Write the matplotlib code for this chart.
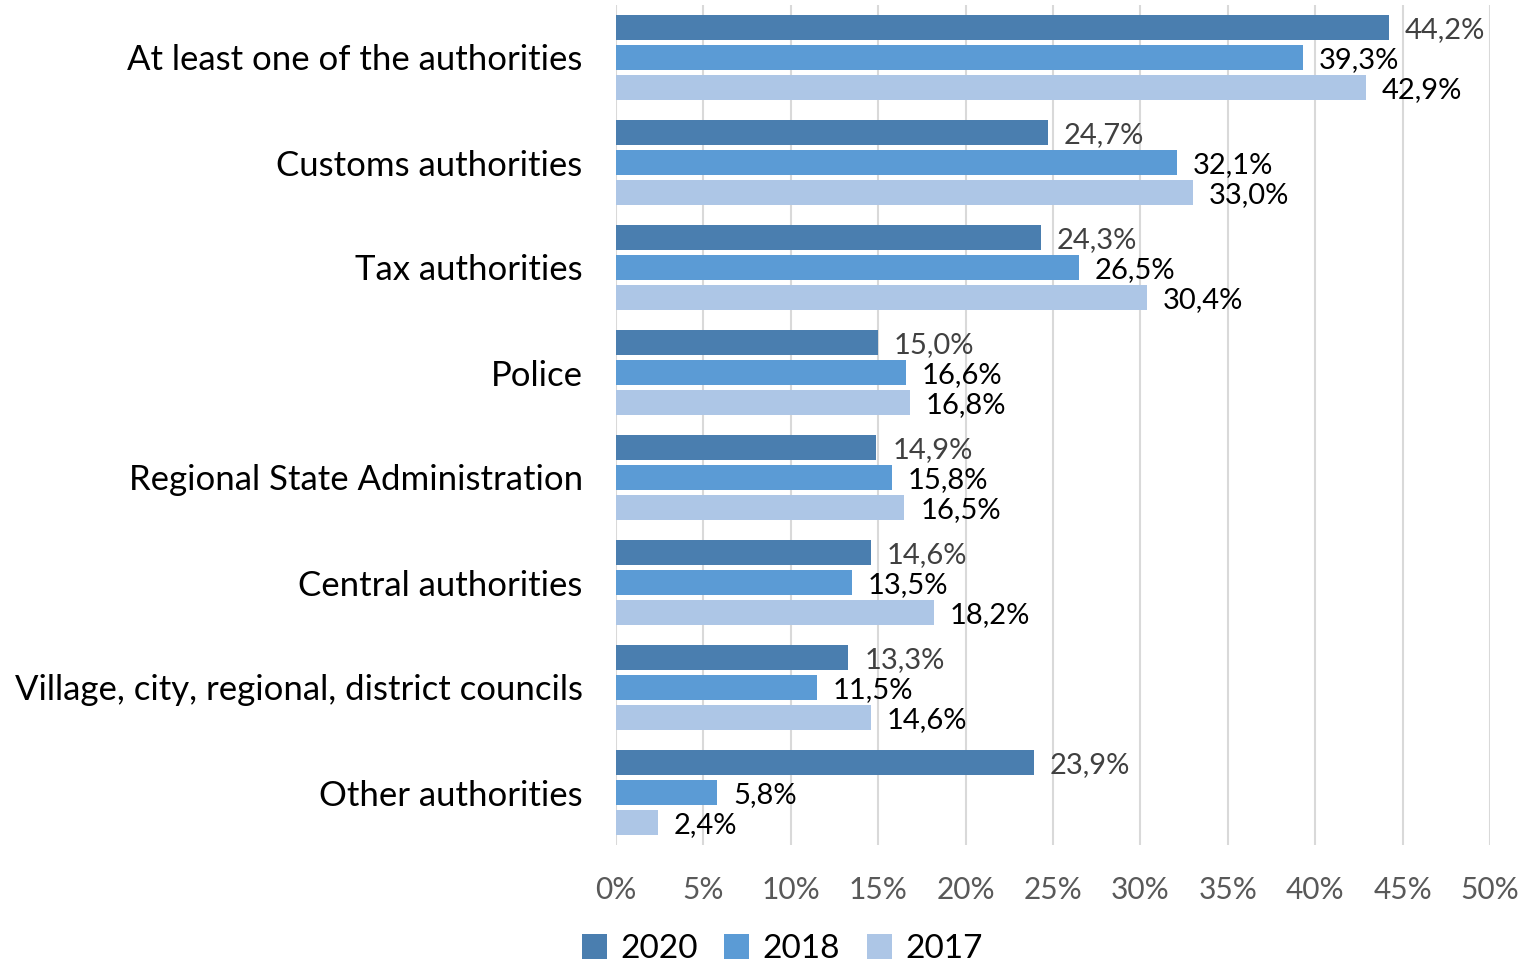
import matplotlib.pyplot as plt
import numpy as np

categories = ["At least one of the authorities", "Customs authorities", "Tax authorities",
              "Police", "Regional State Administration", "Central authorities",
              "Village, city, regional, district councils", "Other authorities"]
years = ["2020", "2018", "2017"]
v2020 = [44.2, 24.7, 24.3, 15.0, 14.9, 14.6, 13.3, 23.9]
v2018 = [39.3, 32.1, 26.5, 16.6, 15.8, 13.5, 11.5, 5.8]
v2017 = [42.9, 33.0, 30.4, 16.8, 16.5, 18.2, 14.6, 2.4]

colors = ["#4a7eaf", "#5b9bd5", "#adc6e6"]
label_colors = ["#404040", "#000000", "#000000"]

plt.rcParams['font.family'] = ['Lato', 'DejaVu Sans']

fig = plt.figure(figsize=(15.19, 9.65), dpi=100)
ax = fig.add_axes([616 / 1519, 1 - 845 / 965, 874 / 1519, 840 / 965])

y = np.arange(len(categories))
step = 0.2857
h = 0.23
for i, (vals, c, lc) in enumerate(zip([v2020, v2018, v2017], colors, label_colors)):
    pos = y + (i - 1) * step
    ax.barh(pos, vals, height=h, color=c, label=years[i], zorder=3)
    for p, v in zip(pos, vals):
        ax.text(v + 0.9, p + 0.02, f"{v:.1f}%".replace(".", ","), va="center", ha="left",
                fontsize=21, color=lc, zorder=4)

ax.set_xlim(0, 50)
ax.set_ylim(len(categories) - 0.5, -0.5)
ax.set_xticks(np.arange(0, 51, 5))
ax.set_xticklabels([f"{t}%" for t in range(0, 51, 5)])
ax.set_yticks(y)
ax.set_yticklabels(categories)
ax.tick_params(axis="x", length=0, labelsize=21.5, labelcolor="#595959", pad=22)
ax.tick_params(axis="y", length=0, labelsize=25, labelcolor="#000000", pad=24)
ax.grid(axis="x", color="#d9d9d9", linewidth=1.5, zorder=0)
for s in ax.spines.values():
    s.set_visible(False)

handles, labels = ax.get_legend_handles_labels()
fig.legend(handles, labels, loc="lower center", bbox_to_anchor=(0.515, -0.03), ncol=3,
           frameon=False, fontsize=24, handlelength=0.75, handleheight=0.75,
           handletextpad=0.4, columnspacing=0.8)

fig.savefig("out.png", dpi=100)
